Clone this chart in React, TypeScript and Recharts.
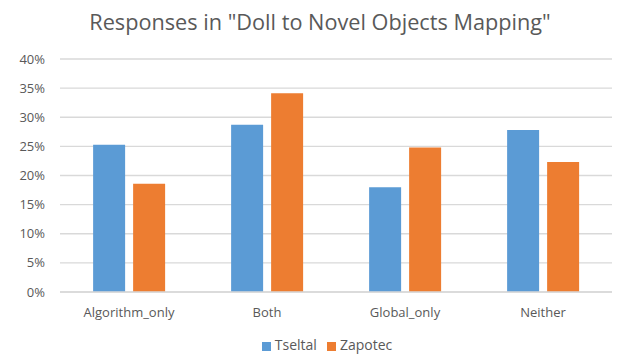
import React from "react";
import { BarChart, Bar, XAxis, YAxis, CartesianGrid, Legend } from "recharts";

const categories = ["Algorithm_only", "Both", "Global_only", "Neither"];
const tseltal = [25.3, 28.7, 18.0, 27.8];
const zapotec = [18.6, 34.1, 24.8, 22.3];
const yTicks = [0, 5, 10, 15, 20, 25, 30, 35, 40];

const data = categories.map((c, i) => ({
  name: c,
  Tseltal: tseltal[i],
  Zapotec: zapotec[i],
}));

const FONT = "'Open Sans', 'Liberation Sans', sans-serif";
const GREY = "#595959";

export default function App() {
  return (
    <div
      style={{
        position: "absolute",
        left: 0,
        top: 0,
        width: 618,
        height: 354,
        background: "#fff",
        fontFamily: FONT,
      }}
    >
      <div
        style={{
          position: "absolute",
          top: 7,
          left: 0,
          width: 640,
          textAlign: "center",
          fontSize: 21.7,
          color: GREY,
        }}
      >
        Responses in "Doll to Novel Objects Mapping"
      </div>
      <BarChart
        width={618}
        height={354}
        data={data}
        margin={{ top: 59, right: 6, left: 0, bottom: 0 }}
        barCategoryGap="24%"
        barGap={8}
      >
        <CartesianGrid vertical={false} stroke="#d9d9d9" strokeWidth={1.3} />
        <XAxis
          dataKey="name"
          height={43}
          tickLine={false}
          axisLine={{ stroke: "#d9d9d9", strokeWidth: 1.3 }}
          tick={{ fill: GREY, fontSize: 13 }}
          tickMargin={10}
        />
        <YAxis
          width={60}
          domain={[0, 40]}
          ticks={yTicks}
          tickFormatter={(v) => `${v}%`}
          axisLine={false}
          tickLine={false}
          tick={{ fill: GREY, fontSize: 13 }}
          tickMargin={9}
        />
        <Legend
          verticalAlign="bottom"
          iconType="square"
          iconSize={9}
          wrapperStyle={{ fontSize: 14, color: GREY, paddingLeft: 26, bottom: 0 }}
          formatter={(v) => <span style={{ color: GREY }}>{v}</span>}
        />
        <Bar dataKey="Tseltal" fill="#5B9BD5" isAnimationActive={false} />
        <Bar dataKey="Zapotec" fill="#ED7D31" isAnimationActive={false} />
      </BarChart>
    </div>
  );
}
